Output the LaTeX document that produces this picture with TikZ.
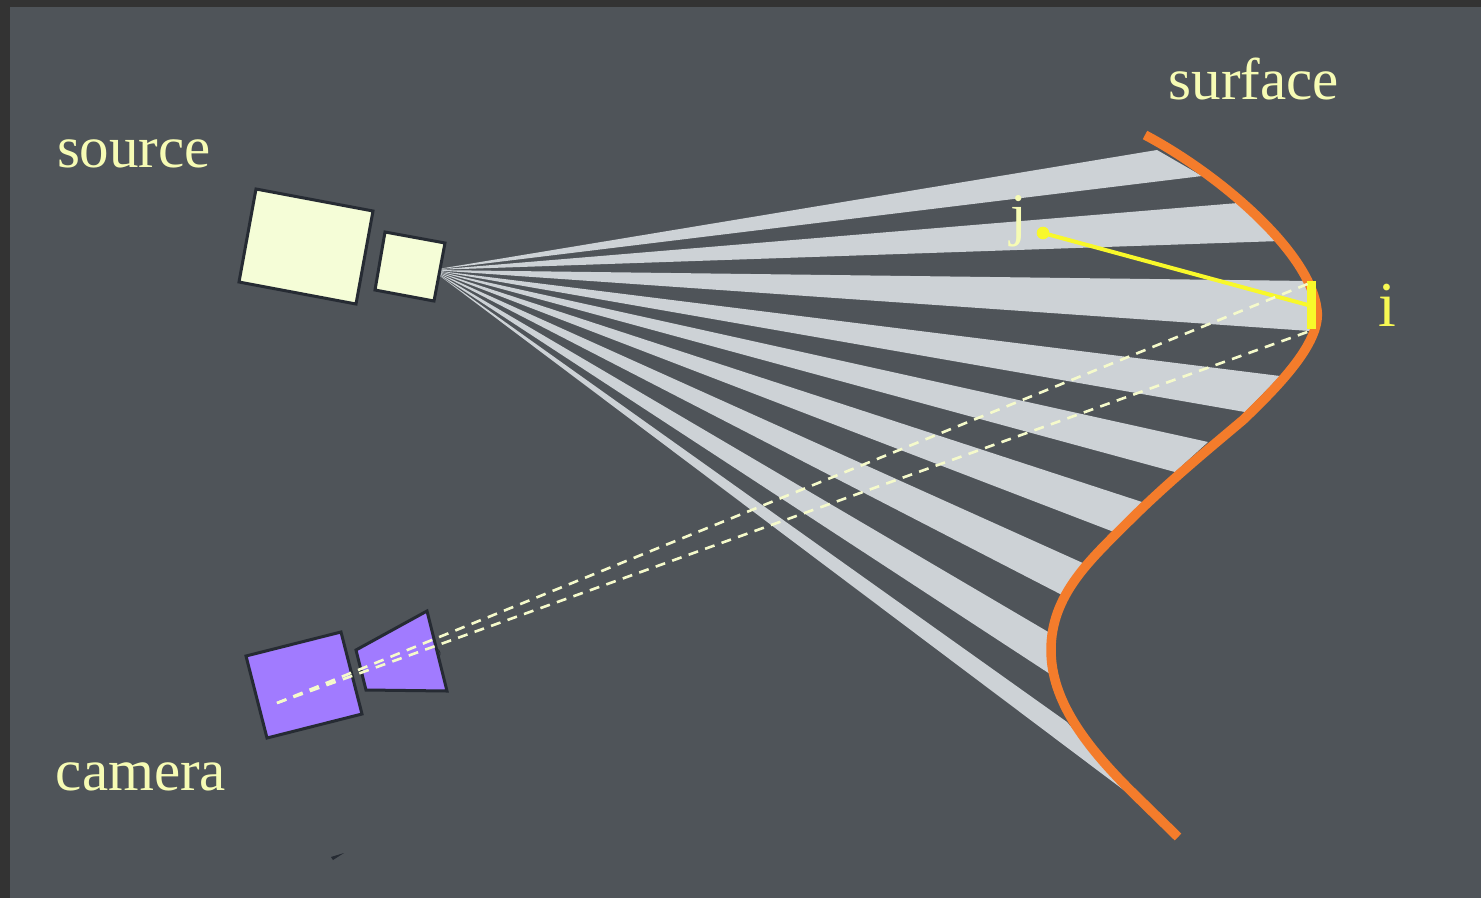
\documentclass[tikz,border=0pt]{standalone}
\usepackage{fontspec}
\setmainfont{Liberation Serif}
\definecolor{bgc}{HTML}{4F5459}
\definecolor{framec}{HTML}{333333}
\definecolor{rayc}{HTML}{CDD2D6}
\definecolor{lightc}{HTML}{F5FDD7}
\definecolor{edgec}{HTML}{262B33}
\definecolor{purplec}{HTML}{A17BFF}
\definecolor{orangec}{HTML}{F47C2B}
\definecolor{yellowc}{HTML}{F8F82A}
\definecolor{labelc}{HTML}{F6FBB4}
\definecolor{dashc}{HTML}{F5FACB}
\tikzset{
  ray/.style={fill=rayc,draw=none},
  srcbox/.style={fill=lightc,draw=edgec,line width=3pt,line join=miter},
  cambox/.style={fill=purplec,draw=edgec,line width=3pt,line join=miter},
  sight/.style={draw=dashc,line width=2.6pt,dash pattern=on 10pt off 7.5pt},
  lbl/.style={text=labelc,inner sep=0pt,anchor=base,font=\fontsize{59}{62}\selectfont},
}
\begin{document}
\begin{tikzpicture}[x=1pt,y=-1pt]
\useasboundingbox (0,0) rectangle (1481,898);
\fill[framec] (0,0) rectangle (1481,898);
\fill[bgc] (10,7) rectangle (1481,898);
\coordinate (apex) at (432,270);
\foreach \ax/\ay/\bx/\by in {1157/150/1202/176, 1238/203/1280/241, 1310/281/1310/331, 1280/376/1245/412, 1208/442/1175/472, 1142/502/1114/532, 1085/564/1064/596, 1050/633/1050/674, 1067/722/1125/791}{
  \fill[ray] (apex) -- (\ax,\ay) -- (\bx,\by) -- cycle;
}
\draw[orangec,line width=9.5pt,line cap=butt] (1145,135) .. controls (1215,172) and (1310,250) .. (1317,310) .. controls (1321,340) and (1285,380) .. (1243,420) .. controls (1205,452) and (1165,485) .. (1127,523) .. controls (1090,560) and (1051,595) .. (1051,650) .. controls (1051,700) and (1085,745) .. (1130,790) -- (1178,837);
\fill[yellowc] (1307,281) rectangle (1316,329);
\coordinate (jdot) at (1043,233);
\coordinate (ihit) at (1308,305);
\draw[yellowc,line width=4pt] (jdot) -- (ihit);
\fill[yellowc] (jdot) circle (6.3pt);
\coordinate (eye) at (277,703);
\coordinate (ia) at (1310,283);
\coordinate (ib) at (1310,331);
\draw[srcbox] (256,189) -- (373,211) -- (356,304) -- (239,282) -- cycle;
\draw[srcbox] (385,232) -- (445,243) -- (434,301) -- (375,290) -- cycle;
\draw[cambox] (246,656) -- (341,632) -- (362,714) -- (267,738) -- cycle;
\draw[cambox] (356,650) -- (427,611) -- (447,691) -- (366,690) -- cycle;
\draw[edgec,line width=0.8pt] (437,649) .. controls (440,650) and (441,654) .. (439,657);
\draw[sight] (eye) -- (ia);
\draw[sight] (eye) -- (ib);
\fill[edgec] (331,857) -- (344,853) -- (333,860) -- cycle;
\node[lbl] (source) at (134,167) {source};
\node[lbl] (camera) at (141,790) {camera};
\node[lbl] (surface) at (1254,99) {surface};
\node[lbl] (jl) at (1019,234) {j};
\node[lbl,text=yellowc!70!labelc,font=\fontsize{64}{66}\selectfont] (il) at (1387,326) {i};
\end{tikzpicture}
\end{document}
